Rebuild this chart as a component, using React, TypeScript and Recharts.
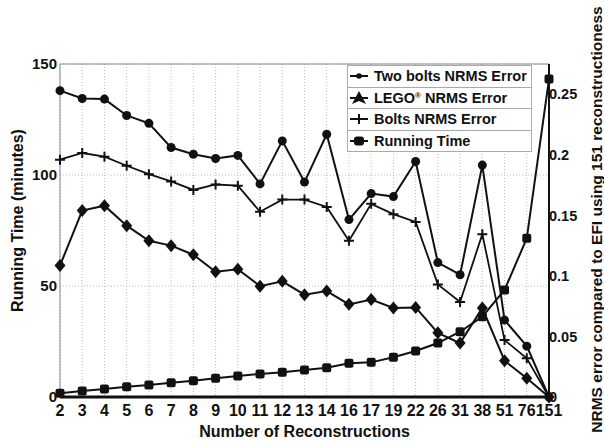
import { LineChart, Line, XAxis, YAxis, CartesianGrid, Legend, Label, ReferenceLine } from "recharts"

const reconstructions = ["2", "3", "4", "5", "6", "7", "8", "9", "10", "11", "12", "13", "14", "16", "17", "19", "22", "26", "31", "38", "51", "76", "151"]
const twoBoltsError = [0.253, 0.2465, 0.246, 0.2325, 0.226, 0.206, 0.2005, 0.197, 0.1995, 0.176, 0.2115, 0.1775, 0.217, 0.1465, 0.168, 0.1655, 0.1945, 0.111, 0.101, 0.1915, 0.0635, 0.042, 0]
const legoError = [0.1085, 0.154, 0.158, 0.1415, 0.129, 0.125, 0.1175, 0.1035, 0.1055, 0.0915, 0.0955, 0.0845, 0.0875, 0.0765, 0.0805, 0.0735, 0.074, 0.053, 0.0445, 0.0735, 0.03, 0.0155, 0]
const boltsError = [0.196, 0.2015, 0.1985, 0.191, 0.184, 0.178, 0.171, 0.1755, 0.1745, 0.153, 0.163, 0.163, 0.157, 0.129, 0.1595, 0.151, 0.1445, 0.093, 0.0785, 0.1345, 0.047, 0.032, 0]
const runningTime = [1.7, 2.7, 3.6, 4.6, 5.4, 6.4, 7.3, 8.4, 9.5, 10.4, 11.1, 12.2, 13.2, 15.2, 15.6, 17.9, 20.7, 24.3, 29.4, 36.2, 48.2, 71.5, 143.2]
const timeTicks = [0, 50, 100, 150]
const errorTicks = [0, 0.05, 0.1, 0.15, 0.2, 0.25]

const data = reconstructions.map((n, i) => ({
  n,
  twoBolts: twoBoltsError[i],
  lego: legoError[i],
  bolts: boltsError[i],
  time: runningTime[i],
}))

const INK = "#111"
const FONT = "'Liberation Sans', Arial, Helvetica, sans-serif"

// markers
const circleDot = (p: any) => <circle key={`c${p.index}`} cx={p.cx} cy={p.cy} r={4.5} fill={INK} />
const diamondDot = (p: any) => (
  <path
    key={`d${p.index}`}
    d={`M${p.cx},${p.cy - 6.5}L${p.cx + 5.5},${p.cy}L${p.cx},${p.cy + 6.5}L${p.cx - 5.5},${p.cy}Z`}
    fill={INK}
  />
)
const plusDot = (p: any) => (
  <path
    key={`p${p.index}`}
    d={`M${p.cx - 5},${p.cy}H${p.cx + 5}M${p.cx},${p.cy - 5}V${p.cy + 5}`}
    stroke={INK}
    strokeWidth={2}
  />
)
const squareDot = (p: any) => (
  <rect key={`s${p.index}`} x={p.cx - 4.5} y={p.cy - 4.5} width={9} height={9} rx={2} fill={INK} />
)

const legendItems = [
  { key: "twoBolts", label: <>Two bolts NRMS Error</> },
  { key: "lego", label: <>LEGO<sup style={{ fontSize: 8, verticalAlign: 5 }}>®</sup> NRMS Error</> },
  { key: "bolts", label: <>Bolts NRMS Error</> },
  { key: "time", label: <>Running Time</> },
]

function LegendMarker({ kind }: { kind: string }) {
  return (
    <svg width={22} height={16} style={{ display: "block" }}>
      <line x1={1} x2={19} y1={8} y2={8} stroke={INK} strokeWidth={2} />
      {kind === "twoBolts" && <circle cx={10} cy={8} r={2.8} fill={INK} />}
      {kind === "lego" && <path d="M10,1L17,14L10,11L3,14Z" fill={INK} />}
      {kind === "bolts" && <path d="M10,3V13" stroke={INK} strokeWidth={2} />}
      {kind === "time" && <rect x={5} y={3.5} width={10} height={9} rx={3} fill={INK} />}
    </svg>
  )
}

function ChartLegend() {
  return (
    <div style={{ width: 183, background: "#fff", border: "1px solid #aaa", fontFamily: FONT, fontWeight: "bold", fontSize: 14.5, color: INK }}>
      {legendItems.map((item, i) => (
        <div
          key={item.key}
          style={{
            height: 20.5,
            display: "flex",
            alignItems: "center",
            borderTop: i ? "1px solid #aaa" : "none",
            whiteSpace: "nowrap",
          }}
        >
          <div style={{ marginLeft: 1, marginRight: 3 }}>
            <LegendMarker kind={item.key} />
          </div>
          <span>{item.label}</span>
        </div>
      ))}
    </div>
  )
}

export default function App() {
  const tickStyle = { fill: INK, fontSize: 15, fontWeight: "bold", fontFamily: FONT }
  return (
    <div style={{ position: "absolute", left: 0, top: 0, background: "#fff", fontFamily: FONT }}>
      <LineChart width={604} height={441} data={data} margin={{ top: 64, right: 0, bottom: 0, left: 0 }}>
        <CartesianGrid yAxisId="left" stroke="#bdbdbd" strokeDasharray="1 2" />
        <XAxis
          dataKey="n"
          interval={0}
          height={44}
          tickLine={false}
          tickSize={0}
          tickMargin={8}
          axisLine={{ stroke: INK, strokeWidth: 3 }}
          tick={{ ...tickStyle, fontSize: 16 }}
        >
          <Label
            value="Number of Reconstructions"
            position="insideBottom"
            offset={4}
            style={{ fill: INK, fontSize: 16, fontWeight: "bold", fontFamily: FONT }}
          />
        </XAxis>
        <YAxis
          yAxisId="left"
          width={60}
          domain={[0, 150]}
          ticks={timeTicks}
          tickLine={false}
          tickSize={0}
          tickMargin={3}
          axisLine={{ stroke: "#888", strokeWidth: 1 }}
          tick={tickStyle}
        >
          <Label
            value="Running Time (minutes)"
            angle={-90}
            position="center"
            dx={-13}
            dy={-10}
            style={{ fill: INK, fontSize: 16, fontWeight: "bold", fontFamily: FONT, textAnchor: "middle" }}
          />
        </YAxis>
        <YAxis
          yAxisId="right"
          orientation="right"
          width={55}
          domain={[0, 0.275]}
          ticks={errorTicks}
          tickLine={false}
          tickSize={0}
          tickMargin={0}
          axisLine={{ stroke: INK, strokeWidth: 2 }}
          tick={{ ...tickStyle, fontSize: 14.5 }}
        >
          <Label
            value="NRMS error compared to EFI using 151 reconstructioness"
            angle={-90}
            position="center"
            dx={20}
            dy={-11}
            style={{ fill: INK, fontSize: 15.5, fontWeight: "bold", fontFamily: FONT, textAnchor: "middle" }}
          />
        </YAxis>
        <ReferenceLine yAxisId="left" y={150} stroke="#888" strokeWidth={1} />
        <Legend
          layout="vertical"
          align="center"
          verticalAlign="middle"
          content={() => <ChartLegend />}
          wrapperStyle={{ left: 347, top: 65, width: 185 }}
        />
        <Line yAxisId="right" dataKey="twoBolts" stroke={INK} strokeWidth={2} dot={circleDot} isAnimationActive={false} />
        <Line yAxisId="right" dataKey="lego" stroke={INK} strokeWidth={2} dot={diamondDot} isAnimationActive={false} />
        <Line yAxisId="right" dataKey="bolts" stroke={INK} strokeWidth={1.8} dot={plusDot} isAnimationActive={false} />
        <Line yAxisId="left" dataKey="time" stroke={INK} strokeWidth={2} dot={squareDot} isAnimationActive={false} />
      </LineChart>
    </div>
  )
}
